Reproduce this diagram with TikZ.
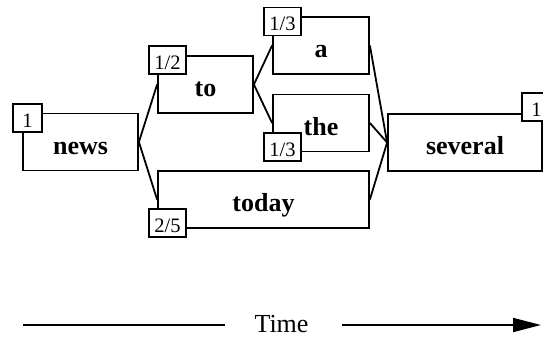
\documentclass[tikz,border=0pt]{standalone}
\usepackage{fontspec}
\setmainfont{Liberation Serif}
\usetikzlibrary{arrows.meta}
\begin{document}
\begin{tikzpicture}[x=1pt,y=-1pt,line width=1.8pt,
  word/.style={draw,rectangle,inner sep=0pt,minimum height=57pt,
    font=\fontsize{26}{26}\selectfont\bfseries,text height=24pt,text depth=0pt},
  prob/.style={draw,fill=white,rectangle,inner xsep=5.5pt,inner ysep=0pt,
    minimum width=29pt,minimum height=28pt,
    font=\fontsize{20.5}{20.5}\selectfont,text height=18.5pt,text depth=0pt},
  link/.style={line join=round}]
\useasboundingbox (0,0) rectangle (543,337);

% word boxes
\node[word,minimum width=115pt] (news)    at (80.5,142)  {news};
\node[word,minimum width=95pt]  (to)      at (205.5,84.5) {to};
\node[word,minimum width=96pt]  (a)       at (321,45.5)  {a};
\node[word,minimum width=96pt]  (the)     at (321,123)   {the};
\node[word,minimum width=211pt] (today)   at (263.5,199.5) {today};
\node[word,minimum width=154pt] (several) at (465,142.5) {several};

% lattice edges
\draw[link] (news.east) -- (to.west);
\draw[link] (news.east) -- (today.west);
\draw[link] (to.east) -- (a.west);
\draw[link] (to.east) -- (the.west);
\draw[link] (a.east) -- (several.west);
\draw[link] (the.east) -- (several.west);
\draw[link] (today.east) -- (several.west);

% probability tags
\node[prob] (pnews)    at (27.5,118)   {1};
\node[prob] (pto)      at (167.5,60)   {1/2};
\node[prob] (pa)       at (282.5,21.5) {1/3};
\node[prob] (pthe)     at (282.5,147)  {1/3};
\node[prob] (ptoday)   at (167.5,223)  {2/5};
\node[prob] (pseveral) at (536.5,107)  {1};

% time axis
\node[anchor=base,font=\fontsize{26}{26}\selectfont,inner sep=0pt] (time) at (281.5,332.5) {Time};
\coordinate (tstart) at (23,325);
\coordinate (tleft)  at (225,325);
\coordinate (tright) at (342,325);
\coordinate (tend)   at (541,325);
\draw (tstart) -- (tleft);
\draw[-{Triangle[length=28pt,width=14pt]}] (tright) -- (tend);
\end{tikzpicture}
\end{document}
